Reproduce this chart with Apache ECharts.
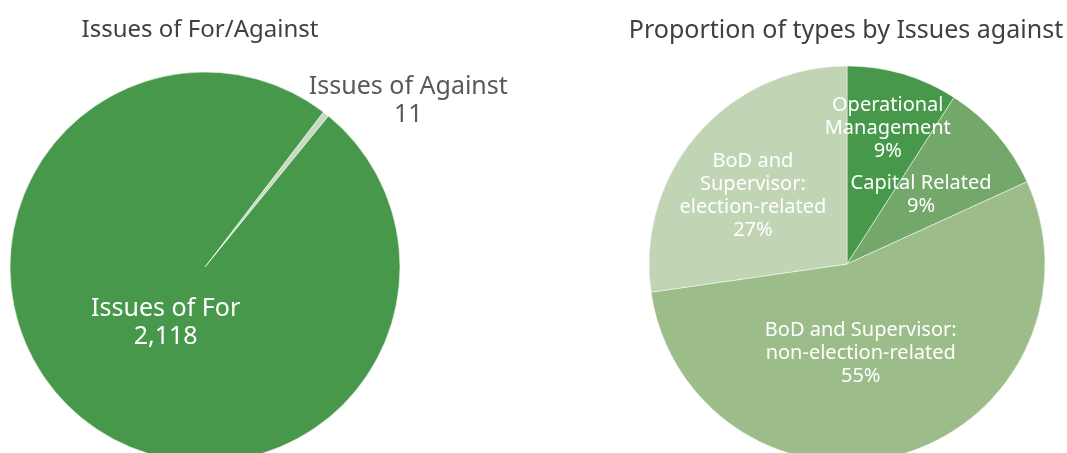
<!DOCTYPE html>
<html>
<head>
<meta charset="utf-8">
<script src="https://cdn.jsdelivr.net/npm/echarts@6/dist/echarts.min.js"></script>
<style>
  html, body { margin: 0; padding: 0; background: #fff; }
  #chart { width: 1067px; height: 453px; }
</style>
</head>
<body>
<div id="chart"></div>
<script>
// left pie: for / against counts
var voteNames = ['Issues of Against', 'Issues of For'];
var voteCounts = [11, 2118];

// right pie: types of issues voted against
var typeNames = [
    'Operational\nManagement',
    'Capital Related',
    'BoD and Supervisor:\nnon-election-related',
    'BoD and\nSupervisor:\nelection-related'
];
var typeCounts = [1, 1, 6, 3];
var typeColors = ['#48984b', '#73a86a', '#9cbd8a', '#c1d4b3'];
var typeOffsets = [[12, -38], [-3, -2], [-15, -9], [-17, -1]];

var font = '"Noto Sans", sans-serif';

var chart = echarts.init(document.getElementById('chart'), null, { renderer: 'canvas' });

var option = {
    animation: false,
    title: [
        { text: 'Issues of For/Against', left: 195, top: 13, textAlign: 'center',
          textStyle: { fontFamily: font, fontSize: 24, fontWeight: 'normal', color: '#404040' } },
        { text: 'Proportion of types by Issues against', left: 841, top: 13, textAlign: 'center',
          textStyle: { fontFamily: font, fontSize: 25, fontWeight: 'normal', color: '#404040' } }
    ],
    series: [
        {
            type: 'pie',
            center: [205, 267],
            radius: 195,
            startAngle: 52.6,
            clockwise: true,
            avoidLabelOverlap: false,
            itemStyle: { borderColor: '#ffffff', borderWidth: 0.6 },
            labelLine: { show: false },
            data: voteNames.map(function (n, i) {
                return {
                    name: n,
                    value: voteCounts[i],
                    itemStyle: { color: i === 0 ? '#c6dcc0' : '#48984b' },
                    label: i === 0
                        ? { position: 'inside', offset: [141, -87], color: '#595959' }
                        : { position: 'inside', offset: [23, -23], color: '#ffffff' }
                };
            }),
            label: {
                fontFamily: font,
                fontSize: 25,
                lineHeight: 28,
                formatter: function (p) {
                    return p.name + '\n' + p.value.toLocaleString('en-US');
                }
            }
        },
        {
            type: 'pie',
            center: [847, 264],
            radius: 198,
            startAngle: 90,
            clockwise: true,
            avoidLabelOverlap: false,
            itemStyle: { borderColor: '#ffffff', borderWidth: 0.5 },
            labelLine: { show: false },
            labelLayout: function (p) {
                var o = typeOffsets[p.dataIndex];
                return { dx: o[0], dy: o[1], hideOverlap: false, moveOverlap: null };
            },
            data: typeNames.map(function (n, i) {
                return {
                    name: n,
                    value: typeCounts[i],
                    itemStyle: { color: typeColors[i] }
                };
            }),
            label: {
                position: 'inside',
                color: '#ffffff',
                fontFamily: font,
                fontSize: 20,
                lineHeight: 23,
                formatter: function (p) {
                    return p.name + '\n' + Math.round(p.percent) + '%';
                }
            }
        }
    ]
};

chart.setOption(option);
</script>
</body>
</html>
